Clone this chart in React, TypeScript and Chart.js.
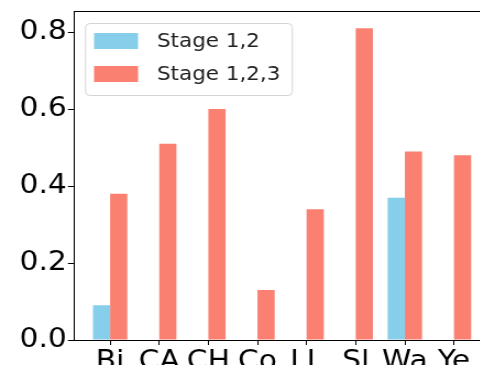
import React, { useEffect, useRef } from "react";
import { Chart, registerables } from "chart.js";

Chart.register(...registerables);

const categories = ["Bi", "CA", "CH", "Co", "LL", "Sl", "Wa", "Ye"];
const stage12 = [0.09, 0, 0, 0, 0, 0, 0.37, 0];
const stage123 = [0.38, 0.51, 0.6, 0.13, 0.34, 0.81, 0.49, 0.48];
const yTicks = [0, 0.2, 0.4, 0.6, 0.8];
const seriesLabels = ["Stage 1,2", "Stage 1,2,3"];
const seriesColors = ["#87CEEB", "#FA8072"];

const FONT = "'DejaVu Sans', sans-serif";
const SX = 1.1; // horizontal stretch of the reference figure

const framePlugin = {
  id: "frame",
  afterDraw(chart: any) {
    const { ctx, chartArea } = chart;
    ctx.save();
    ctx.strokeStyle = "#000";
    ctx.lineWidth = 1;
    ctx.beginPath();
    ctx.moveTo(chartArea.left, chartArea.top + 0.5);
    ctx.lineTo(chartArea.right, chartArea.top + 0.5);
    ctx.moveTo(chartArea.right - 0.5, chartArea.top);
    ctx.lineTo(chartArea.right - 0.5, chartArea.bottom);
    ctx.stroke();

    // legend
    const lx = chartArea.left + 10;
    const ly = chartArea.top + 12;
    const lw = 188;
    const lh = 72;
    ctx.fillStyle = "rgba(255,255,255,0.8)";
    ctx.strokeStyle = "#d4d4d4";
    ctx.lineWidth = 1;
    ctx.beginPath();
    (ctx as any).roundRect(lx + 0.5, ly + 0.5, lw, lh, 4);
    ctx.fill();
    ctx.stroke();
    chart.data.datasets.forEach((ds: any, i: number) => {
      const py = ly + 10 + i * 33;
      ctx.fillStyle = ds.backgroundColor;
      ctx.fillRect(lx + 8.2, py, 40, 16);
      ctx.fillStyle = "#222";
      ctx.font = `19.5px ${FONT}`;
      ctx.textBaseline = "middle";
      ctx.textAlign = "left";
      ctx.fillText(ds.label, lx + 65.4, py + 9);
    });
    ctx.restore();
  },
};

export default function App() {
  const ref = useRef<HTMLCanvasElement>(null);
  useEffect(() => {
    if (!ref.current) return;
    const chart = new Chart(ref.current, {
      type: "bar",
      data: {
        datasets: [
          {
            label: seriesLabels[0],
            data: stage12.map((v, i) => ({ x: i, y: v })),
            backgroundColor: seriesColors[0],
            categoryPercentage: 0.7,
            barPercentage: 1.0,
          },
          {
            label: seriesLabels[1],
            data: stage123.map((v, i) => ({ x: i, y: v })),
            backgroundColor: seriesColors[1],
            categoryPercentage: 0.7,
            barPercentage: 1.0,
          },
        ],
      },
      options: {
        animation: false,
        responsive: false,
        devicePixelRatio: 1,
        layout: { padding: { top: 11, left: 0, right: 14.5, bottom: 0 } },
        plugins: {
          legend: { display: false },
          tooltip: { enabled: false },
        },
        scales: {
          x: {
            type: "linear",
            offset: false,
            min: -0.735,
            max: categories.length - 1 + 0.735,
            afterBuildTicks: (s: any) => {
              s.ticks = categories.map((_, i) => ({ value: i }));
            },
            afterFit: (s: any) => {
              s.height = 60;
              s.paddingLeft = 0;
              s.paddingRight = 0;
            },
            grid: {
              display: true,
              offset: false,
              drawOnChartArea: false,
              drawTicks: true,
              tickLength: 5,
              color: "#000",
            },
            border: { display: true, color: "#000", width: 1 },
            ticks: {
              autoSkip: false,
              maxRotation: 0,
              padding: 3,
              color: "#000",
              font: { family: FONT, size: 27, lineHeight: 1 },
              callback: (v: any) => categories[v] ?? "",
            },
          },
          y: {
            min: 0,
            max: 0.855,
            afterBuildTicks: (s: any) => {
              s.ticks = yTicks.map((v) => ({ value: v }));
            },
            afterFit: (s: any) => {
              s.width = 74 / SX;
              s.paddingTop = 0;
              s.paddingBottom = 0;
            },
            grid: {
              display: true,
              drawOnChartArea: false,
              drawTicks: true,
              tickLength: 5.5,
              color: "#000",
            },
            border: { display: true, color: "#000", width: 1 },
            ticks: {
              padding: 1,
              color: "#000",
              font: { family: FONT, size: 27 },
              callback: (v: any) => Number(v).toFixed(1),
            },
          },
        },
      },
      plugins: [framePlugin],
    });
    return () => chart.destroy();
  }, []);
  return (
    <div
      style={{
        position: "fixed",
        left: 0,
        top: 0,
        width: 480,
        height: 365,
        overflow: "hidden",
        background: "#fff",
      }}
    >
      <canvas
        ref={ref}
        width={460}
        height={400}
        style={{ display: "block", transform: `scaleX(${SX})`, transformOrigin: "0 0" }}
      />
    </div>
  );
}
